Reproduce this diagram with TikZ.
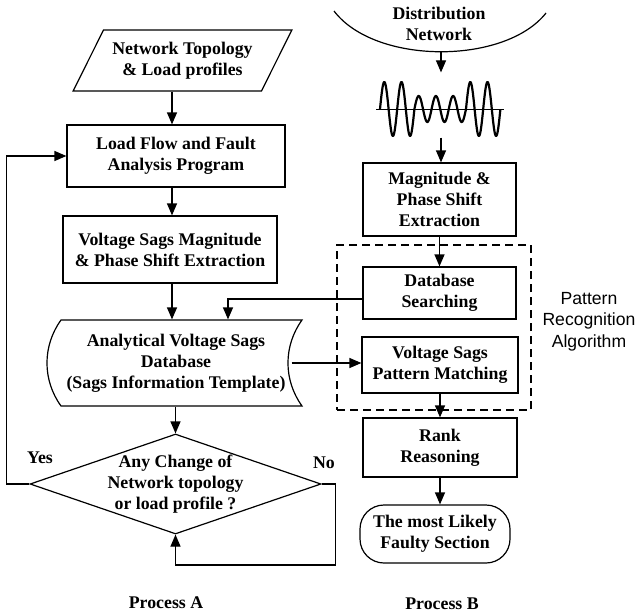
\documentclass[tikz,border=0pt]{standalone}
\usepackage{fontspec}
\setmainfont{Liberation Serif}
\setsansfont{Liberation Sans}
\usetikzlibrary{calc,
	shapes.geometric,
	arrows.meta,
	positioning
}
\tikzset{
	arr/.style={-{Triangle[length=12pt,width=10pt]}},
	block/.style={draw, rectangle, inner sep=0pt, align=center},
	io/.style={draw, trapezium, trapezium left angle=54, trapezium right angle=126, trapezium stretches=true, minimum width=219, minimum height=61, inner sep=0pt, align=center},
	decision/.style={draw, diamond, aspect=2.91, inner sep=-10pt, minimum width=291, minimum height=100, align=center},
	terminal/.style={draw, rectangle, rounded corners=24pt, inner sep=0pt, align=center},
	group/.style={draw, rectangle, dash pattern=on 8pt off 5pt, inner sep=0pt},
	note/.style={align=center, font=\fontsize{17.6pt}{21.5pt}\selectfont\sffamily\mdseries},
}

\begin{document}
\begin{tikzpicture}[x=1pt, y=-1pt, line width=1.2pt, font=\fontsize{17.8pt}{21pt}\selectfont\bfseries]
\useasboundingbox (0,0) rectangle (636,615);

% process A

\node[io] (topo) at (182.5,60.5) {Network Topology\\ \& Load profiles};
\node[block, minimum width=218, minimum height=62] (flow) at (176,156) {Load Flow and Fault\\Analysis Program};
\node[block, minimum width=214, minimum height=67] (extractA) at (170,249.5) {Voltage Sags Magnitude\\\& Phase Shift Extraction};
\node[inner sep=0pt, align=center, minimum width=230, minimum height=86] (db) at (176,363) {Analytical Voltage Sags\\Database\\(Sags Information Template)};
\draw (61,320) -- (302,320) .. controls (283.3,346) and (283.3,380) .. (302,406) -- (61,406) .. controls (42.3,380) and (42.3,346) .. cycle;
\node[decision] (change) at (175.5,484) {Any Change of\\Network topology\\or load profile ?};
\node (yes) at (40,458) {Yes};
\node (no) at (324,463) {No};

% process B

\draw (334,11) .. controls (375,65) and (505,65) .. (546,13);
\coordinate (arcbot) at (441,52);
\node[align=center] (dist) at (439,24) {Distribution\\Network};

\node[minimum width=130, minimum height=64, inner sep=0pt] (wave) at (440,105) {};
\draw[line width=0.8pt] (376,109) -- (504,109);
\draw[line width=2.2pt, line join=round] plot[domain=0:7, samples=281] ({380+17.2*\x}, {109-(13+14*((\x<2)||(\x>5)))*sin(360*\x)});

\node[block, minimum width=153, minimum height=73] (mag) at (439.5,199.5) {Magnitude \&\\Phase Shift\\Extraction};
\node[group, minimum width=194, minimum height=165] (pra) at (434,327.5) {};
\node[note] (pralabel) at (589,321.5) {Pattern\\Recognition\\Algorithm};
\node[block, minimum width=153, minimum height=52] (search) at (439.5,293) {Database\\Searching};
\node[block, minimum width=156, minimum height=56] (match) at (440,365) {Voltage Sags\\Pattern Matching};
\node[block, minimum width=154, minimum height=59] (rank) at (440,447.5) {Rank\\Reasoning};
\node[terminal, minimum width=150, minimum height=58] (result) at (435,534) {The most Likely\\Faulty Section};

\node (procA) at (166,603) {Process A};
\node (procB) at (442,604) {Process B};

% connections

\coordinate (colA) at (172,0);
\draw[arr] (topo.south -| colA) -- (flow.north -| colA);
\draw[arr] (flow.south -| colA) -- (extractA.north -| colA);
\draw[arr] (extractA.south -| colA) -- (db.north -| colA);
\draw[arr] (db.south -| change.north) -- (change.north);
\draw[arr] (change.west) -- ++(-23,0) |- (flow.west);
\draw[arr] (change.east) -- ++(14,0) -- ++(0,81) -| (change.south);

\draw[arr] (arcbot) -- (arcbot |- wave.north);
\draw[arr] (arcbot |- wave.south) -- (arcbot |- mag.north);
\draw[arr] (mag.south) -- (search.north);
\draw[arr] (match.south) -- (rank.north);
\draw[arr] (rank.south) -- (rank.south |- result.north);
\draw[arr] ([yshift=-6pt]search.west) -| ([xshift=52pt]db.north);
\draw[arr] (db.east) -- (db.east -| match.west);

\end{tikzpicture}
\end{document}
